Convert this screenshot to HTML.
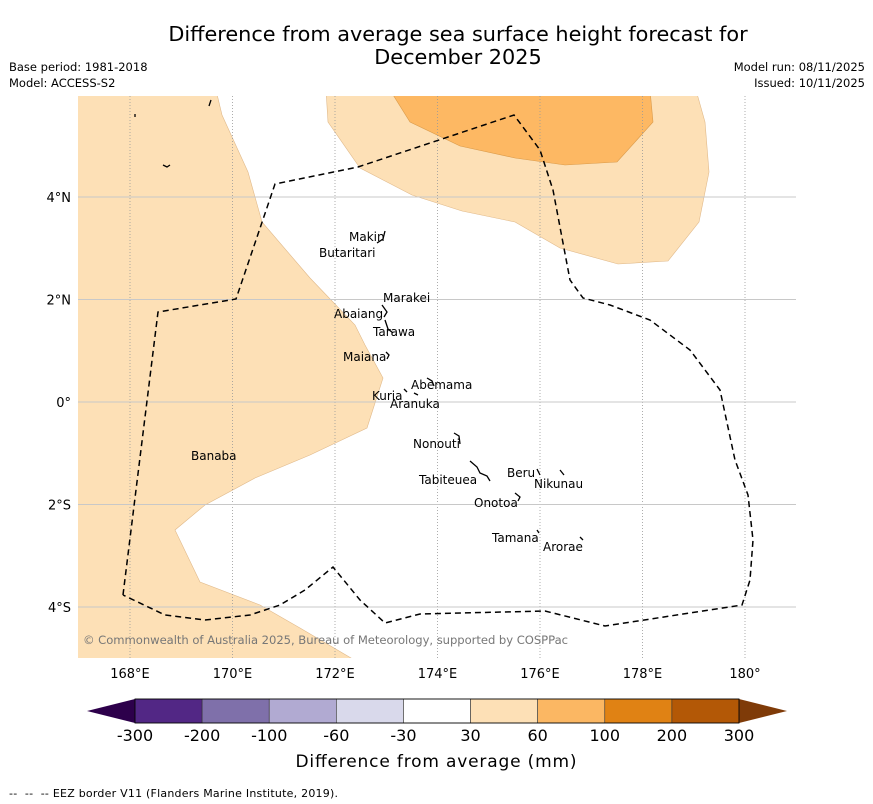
<!DOCTYPE html>
<html><head><meta charset="utf-8"><style>
body{margin:0;background:#fff;}
svg{display:block;font-family:"DejaVu Sans","Liberation Sans",sans-serif;}
</style></head><body>
<svg id="fig" width="873" height="804" viewBox="0 0 873 804">
<text x="458" y="41" font-size="20.8" text-anchor="middle">Difference from average sea surface height forecast for</text>
<text x="458" y="64" font-size="20.8" text-anchor="middle">December 2025</text>
<text x="9" y="71" font-size="11.5">Base period: 1981-2018</text>
<text x="9" y="87" font-size="11.5">Model: ACCESS-S2</text>
<text x="865" y="71" font-size="11.5" text-anchor="end">Model run: 08/11/2025</text>
<text x="865" y="87" font-size="11.5" text-anchor="end">Issued: 10/11/2025</text>
<defs><clipPath id="mapclip"><rect x="78" y="96" width="718" height="562"/></clipPath></defs>
<g clip-path="url(#mapclip)">
<polygon fill="#fde0b6" stroke="#e0b98a" stroke-width="0.6" points="70,90 216,90 222,115 248,172 262,222 310,278 355,325 365,345 383,378 367,428 310,455 255,478 205,505 175,530 200,582 260,605 300,628 368,668 70,668"/>
<polygon fill="#fde0b6" stroke="#e0b98a" stroke-width="0.6" points="326,90 328,122 360,168 412,195 462,211 515,222 560,248 618,264 668,261 699,222 709,172 705,122 696,90"/>
<polygon fill="#fdb863" stroke="#d99a4a" stroke-width="0.6" points="390,90 410,122 460,146 515,158 565,165 617,162 653,122 650,90"/>
<g id="grid"></g>
<polyline fill="none" stroke="#000" stroke-width="1.5" stroke-dasharray="6,4" points="123,595 158,312 236,299 275,184 358,167 514,115 540,150 553,190 570,280 583,298 610,305 650,320 690,350 720,390 735,460 748,495 753,540 750,580 742,605 605,626 545,611 420,614 385,623 360,600 333,567 305,590 280,605 250,615 205,620 165,615 123,595"/>
<g id="islands" stroke="#000" stroke-width="1.3" fill="none">
<path d="M385,231 l-2,8 -6,4"/><path d="M382,305 l5,7 -3,5"/><path d="M385,320 l3,9 5,4"/><path d="M386,352 l3,3 -2,4"/>
<path d="M427,378 l5,3 2,5"/><path d="M404,389 l3,3"/><path d="M414,393 l4,2"/><path d="M454,433 l5,3 1,8"/>
<path d="M470,461 l7,6 3,6 7,3 3,5"/><path d="M537,469 l3,6"/><path d="M560,470 l4,5"/><path d="M515,493 l5,4 -2,4"/>
<path d="M537,530 l2,3"/><path d="M580,537 l3,3"/><path d="M211,100 l-2,6"/><path d="M163,165 l4,2 3,-2"/><path d="M135,114 l0,3"/>
</g>
<g font-size="12" fill="#000">
<text x="349" y="241">Makin</text><text x="319" y="257">Butaritari</text><text x="383" y="302">Marakei</text>
<text x="334" y="318">Abaiang</text><text x="373" y="336">Tarawa</text><text x="343" y="361">Maiana</text>
<text x="411" y="389">Abemama</text><text x="372" y="400">Kuria</text><text x="390" y="408">Aranuka</text>
<text x="413" y="448">Nonouti</text><text x="191" y="460">Banaba</text><text x="507" y="477">Beru</text>
<text x="419" y="484">Tabiteuea</text><text x="534" y="488">Nikunau</text><text x="474" y="507">Onotoa</text>
<text x="492" y="542">Tamana</text><text x="543" y="551">Arorae</text>
</g>
<text x="83" y="644" font-size="11.6" fill="#777" textLength="485">© Commonwealth of Australia 2025, Bureau of Meteorology, supported by COSPPac</text>
</g>
<g id="ticks" font-size="13"></g>
<g id="cbar"></g>
<text x="436" y="767" font-size="17" text-anchor="middle" textLength="281">Difference from average (mm)</text>
<text x="9" y="797" font-size="11" xml:space="preserve" style="white-space:pre" textLength="329">--  --  -- EEZ border V11 (Flanders Marine Institute, 2019).</text>
</svg>
<script>
const lonTicks=[168,170,172,174,176,178,180];
const lonLabels=["168°E","170°E","172°E","174°E","176°E","178°E","180°"];
const latTicks=[4,2,0,-2,-4];
const latLabels=["4°N","2°N","0°","2°S","4°S"];
const cbarBounds=["-300","-200","-100","-60","-30","30","60","100","200","300"];
const cbarColors=["#522785","#7f70aa","#b1aad2","#d9d9eb","#ffffff","#fde0b6","#fbb763","#e08214","#b35806"];
const extLow="#2d004b", extHigh="#7f3b08";
const NS="http://www.w3.org/2000/svg";
const X=lon=>130+(lon-168)*51.25;
const Y=lat=>402-lat*51.25;
function mk(tag,attrs,parent){const e=document.createElementNS(NS,tag);for(const k in attrs)e.setAttribute(k,attrs[k]);parent.appendChild(e);return e;}
const grid=document.getElementById('grid'), ticks=document.getElementById('ticks');
lonTicks.forEach((lon,i)=>{
 const l=mk('line',{x1:X(lon),x2:X(lon),y1:96,y2:658,stroke:'#999','stroke-width':0.8,'stroke-dasharray':'1,2'},grid);
 
 
 const t=mk('text',{x:X(lon),y:678,'text-anchor':'middle'},ticks);t.textContent=lonLabels[i];
 
 
});
latTicks.forEach((lat,i)=>{
 const l=mk('line',{x1:78,x2:796,y1:Y(lat),y2:Y(lat),stroke:'#c8c8c8','stroke-width':1},grid);
 
 
 const t=mk('text',{x:71,y:Y(lat)+5,'text-anchor':'end'},ticks);t.textContent=latLabels[i];
 
 
});
const cb=document.getElementById('cbar');
const cx0=135,cx1=739,cy=699,ch=24,n=cbarColors.length,w=(cx1-cx0)/n;
const lo=mk('polygon',{points:`${cx0},${cy} ${cx0},${cy+ch} 87,${cy+ch/2}`,fill:extLow},cb);


const hi=mk('polygon',{points:`${cx1},${cy} ${cx1},${cy+ch} 787,${cy+ch/2}`,fill:extHigh},cb);


cbarColors.forEach((c,i)=>{
 const r=mk('rect',{x:cx0+i*w,y:cy,width:w,height:ch,fill:c,stroke:'#333','stroke-width':0.6},cb);
 
 
});
cbarBounds.forEach((b,i)=>{
 const t=mk('text',{x:cx0+i*w,y:741,'text-anchor':'middle','font-size':16},cb);t.textContent=b;
 
 
});
mk('rect',{x:cx0,y:cy,width:cx1-cx0,height:ch,fill:'none',stroke:'#000','stroke-width':0.8},cb);
</script>
</body></html>
